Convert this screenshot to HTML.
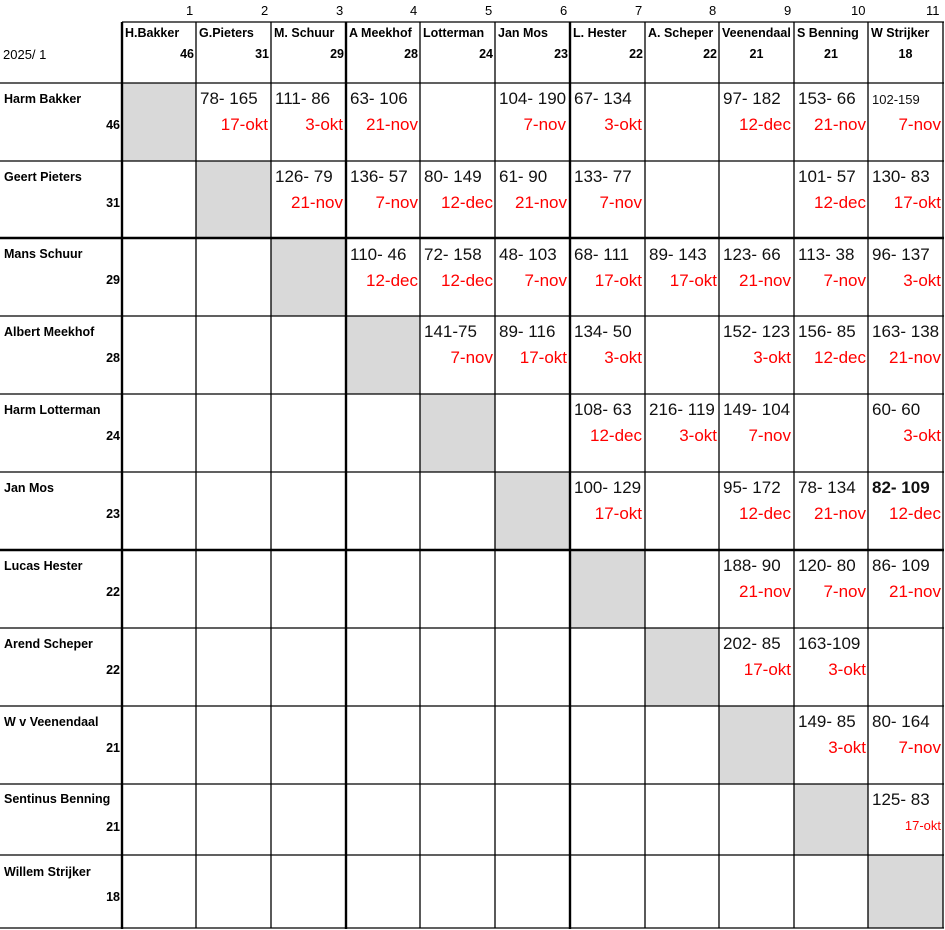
<!DOCTYPE html>
<html><head><meta charset="utf-8"><style>
body{margin:0;background:#fff;width:945px;height:930px;position:relative;overflow:hidden;font-family:"Liberation Sans",Arial,sans-serif}
svg{position:absolute;left:0;top:0}
.t{position:absolute;white-space:nowrap;line-height:1}
.n{font-size:17px;color:#111}
.d{font-size:17px;color:#f00;text-align:right}
.h{font-size:12.5px;font-weight:bold;color:#000}
.c{font-size:13px;color:#000}
</style></head><body>
<svg width="945" height="930">
<g fill="#d9d9d9">
<rect x="122" y="83" width="74" height="78"/><rect x="196" y="161" width="75" height="77"/><rect x="271" y="238" width="75" height="78"/><rect x="346" y="316" width="74" height="78"/><rect x="420" y="394" width="75" height="78"/><rect x="495" y="472" width="75" height="78"/><rect x="570" y="550" width="75" height="78"/><rect x="645" y="628" width="74" height="78"/><rect x="719" y="706" width="75" height="78"/><rect x="794" y="784" width="74" height="71"/><rect x="868" y="855" width="75" height="73"/>
</g>
<g stroke="#000" stroke-width="1.3">
<line x1="196" y1="22" x2="196" y2="928"/><line x1="271" y1="22" x2="271" y2="928"/><line x1="420" y1="22" x2="420" y2="928"/><line x1="495" y1="22" x2="495" y2="928"/><line x1="645" y1="22" x2="645" y2="928"/><line x1="719" y1="22" x2="719" y2="928"/><line x1="794" y1="22" x2="794" y2="928"/><line x1="868" y1="22" x2="868" y2="928"/><line x1="943" y1="22" x2="943" y2="928"/>
<line x1="122" y1="22" x2="944" y2="22"/><line x1="0" y1="83" x2="944" y2="83"/><line x1="0" y1="161" x2="944" y2="161"/><line x1="0" y1="316" x2="944" y2="316"/><line x1="0" y1="394" x2="944" y2="394"/><line x1="0" y1="472" x2="944" y2="472"/><line x1="0" y1="628" x2="944" y2="628"/><line x1="0" y1="706" x2="944" y2="706"/><line x1="0" y1="784" x2="944" y2="784"/><line x1="0" y1="855" x2="944" y2="855"/><line x1="0" y1="928" x2="944" y2="928"/>
</g>
<g stroke="#000" stroke-width="2.4">
<line x1="122" y1="22" x2="122" y2="929"/><line x1="346" y1="22" x2="346" y2="929"/><line x1="570" y1="22" x2="570" y2="929"/>
<line x1="0" y1="238" x2="944" y2="238"/><line x1="0" y1="550" x2="944" y2="550"/>
</g>
</svg>

<!-- column numbers -->
<div class="t c" style="top:4px;left:186px">1</div>
<div class="t c" style="top:4px;left:261px">2</div>
<div class="t c" style="top:4px;left:336px">3</div>
<div class="t c" style="top:4px;left:410px">4</div>
<div class="t c" style="top:4px;left:485px">5</div>
<div class="t c" style="top:4px;left:560px">6</div>
<div class="t c" style="top:4px;left:635px">7</div>
<div class="t c" style="top:4px;left:709px">8</div>
<div class="t c" style="top:4px;left:784px">9</div>
<div class="t c" style="top:4px;left:851px">10</div>
<div class="t c" style="top:4px;left:926px">11</div>
<div class="t c" style="top:48px;left:3px">2025/ 1</div>

<!-- header names -->
<div class="t h" style="top:27px;left:125px;width:69px;overflow:hidden">H.Bakker</div>
<div class="t h" style="top:27px;left:199px;width:70px;overflow:hidden">G.Pieters</div>
<div class="t h" style="top:27px;left:274px;width:70px;overflow:hidden">M. Schuur</div>
<div class="t h" style="top:27px;left:349px;width:70px;overflow:hidden">A Meekhof</div>
<div class="t h" style="top:27px;left:423px;width:70px;overflow:hidden">Lotterman</div>
<div class="t h" style="top:27px;left:498px;width:70px;overflow:hidden">Jan Mos</div>
<div class="t h" style="top:27px;left:573px;width:70px;overflow:hidden">L. Hester</div>
<div class="t h" style="top:27px;left:648px;width:70px;overflow:hidden">A. Scheper</div>
<div class="t h" style="top:27px;left:722px;width:71px;overflow:hidden">Veenendaal</div>
<div class="t h" style="top:27px;left:797px;width:70px;overflow:hidden">S Benning</div>
<div class="t h" style="top:27px;left:871px;width:70px;overflow:hidden">W Strijker</div>
<div class="t h" style="top:48px;left:122px;width:72px;text-align:right">46</div>
<div class="t h" style="top:48px;left:196px;width:73px;text-align:right">31</div>
<div class="t h" style="top:48px;left:271px;width:73px;text-align:right">29</div>
<div class="t h" style="top:48px;left:346px;width:72px;text-align:right">28</div>
<div class="t h" style="top:48px;left:420px;width:73px;text-align:right">24</div>
<div class="t h" style="top:48px;left:495px;width:73px;text-align:right">23</div>
<div class="t h" style="top:48px;left:570px;width:73px;text-align:right">22</div>
<div class="t h" style="top:48px;left:645px;width:72px;text-align:right">22</div>
<div class="t h" style="top:48px;left:719px;width:75px;text-align:center">21</div>
<div class="t h" style="top:48px;left:794px;width:74px;text-align:center">21</div>
<div class="t h" style="top:48px;left:868px;width:75px;text-align:center">18</div>

<!-- row names -->
<div class="t h" style="top:93px;left:4px">Harm Bakker</div><div class="t h" style="top:119px;left:0;width:120px;text-align:right">46</div>
<div class="t h" style="top:171px;left:4px">Geert Pieters</div><div class="t h" style="top:197px;left:0;width:120px;text-align:right">31</div>
<div class="t h" style="top:248px;left:4px">Mans Schuur</div><div class="t h" style="top:274px;left:0;width:120px;text-align:right">29</div>
<div class="t h" style="top:326px;left:4px">Albert Meekhof</div><div class="t h" style="top:352px;left:0;width:120px;text-align:right">28</div>
<div class="t h" style="top:404px;left:4px">Harm Lotterman</div><div class="t h" style="top:430px;left:0;width:120px;text-align:right">24</div>
<div class="t h" style="top:482px;left:4px">Jan Mos</div><div class="t h" style="top:508px;left:0;width:120px;text-align:right">23</div>
<div class="t h" style="top:560px;left:4px">Lucas Hester</div><div class="t h" style="top:586px;left:0;width:120px;text-align:right">22</div>
<div class="t h" style="top:638px;left:4px">Arend Scheper</div><div class="t h" style="top:664px;left:0;width:120px;text-align:right">22</div>
<div class="t h" style="top:716px;left:4px">W v Veenendaal</div><div class="t h" style="top:742px;left:0;width:120px;text-align:right">21</div>
<div class="t h" style="top:793px;left:4px">Sentinus Benning</div><div class="t h" style="top:821px;left:0;width:120px;text-align:right">21</div>
<div class="t h" style="top:866px;left:4px">Willem Strijker</div><div class="t h" style="top:891px;left:0;width:120px;text-align:right">18</div>

<!-- Row 1 T=83 -->
<div class="t n" style="top:90px;left:200px">78- 165</div><div class="t d" style="top:116px;left:196px;width:72px">17-okt</div>
<div class="t n" style="top:90px;left:275px">111- 86</div><div class="t d" style="top:116px;left:271px;width:72px">3-okt</div>
<div class="t n" style="top:90px;left:350px">63- 106</div><div class="t d" style="top:116px;left:346px;width:72px">21-nov</div>
<div class="t n" style="top:90px;left:499px;width:71px;overflow:hidden">104- 190</div><div class="t d" style="top:116px;left:495px;width:71px">7-nov</div>
<div class="t n" style="top:90px;left:574px">67- 134</div><div class="t d" style="top:116px;left:570px;width:72px">3-okt</div>
<div class="t n" style="top:90px;left:723px">97- 182</div><div class="t d" style="top:116px;left:719px;width:72px">12-dec</div>
<div class="t n" style="top:90px;left:798px">153- 66</div><div class="t d" style="top:116px;left:794px;width:72px">21-nov</div>
<div class="t n" style="top:93px;left:872px;font-size:13px">102-159</div><div class="t d" style="top:116px;left:868px;width:73px">7-nov</div>
<!-- Row 2 T=161 -->
<div class="t n" style="top:168px;left:275px">126- 79</div><div class="t d" style="top:194px;left:271px;width:72px">21-nov</div>
<div class="t n" style="top:168px;left:350px">136- 57</div><div class="t d" style="top:194px;left:346px;width:72px">7-nov</div>
<div class="t n" style="top:168px;left:424px">80- 149</div><div class="t d" style="top:194px;left:420px;width:73px">12-dec</div>
<div class="t n" style="top:168px;left:499px">61- 90</div><div class="t d" style="top:194px;left:495px;width:72px">21-nov</div>
<div class="t n" style="top:168px;left:574px">133- 77</div><div class="t d" style="top:194px;left:570px;width:72px">7-nov</div>
<div class="t n" style="top:168px;left:798px">101- 57</div><div class="t d" style="top:194px;left:794px;width:72px">12-dec</div>
<div class="t n" style="top:168px;left:872px">130- 83</div><div class="t d" style="top:194px;left:868px;width:73px">17-okt</div>
<!-- Row 3 T=238 -->
<div class="t n" style="top:246px;left:350px">110- 46</div><div class="t d" style="top:272px;left:346px;width:72px">12-dec</div>
<div class="t n" style="top:246px;left:424px">72- 158</div><div class="t d" style="top:272px;left:420px;width:73px">12-dec</div>
<div class="t n" style="top:246px;left:499px">48- 103</div><div class="t d" style="top:272px;left:495px;width:72px">7-nov</div>
<div class="t n" style="top:246px;left:574px">68- 111</div><div class="t d" style="top:272px;left:570px;width:72px">17-okt</div>
<div class="t n" style="top:246px;left:649px">89- 143</div><div class="t d" style="top:272px;left:645px;width:72px">17-okt</div>
<div class="t n" style="top:246px;left:723px">123- 66</div><div class="t d" style="top:272px;left:719px;width:72px">21-nov</div>
<div class="t n" style="top:246px;left:798px">113- 38</div><div class="t d" style="top:272px;left:794px;width:72px">7-nov</div>
<div class="t n" style="top:246px;left:872px">96- 137</div><div class="t d" style="top:272px;left:868px;width:73px">3-okt</div>
<!-- Row 4 T=316 -->
<div class="t n" style="top:323px;left:424px">141-75</div><div class="t d" style="top:349px;left:420px;width:73px">7-nov</div>
<div class="t n" style="top:323px;left:499px">89- 116</div><div class="t d" style="top:349px;left:495px;width:72px">17-okt</div>
<div class="t n" style="top:323px;left:574px">134- 50</div><div class="t d" style="top:349px;left:570px;width:72px">3-okt</div>
<div class="t n" style="top:323px;left:723px">152- 123</div><div class="t d" style="top:349px;left:719px;width:72px">3-okt</div>
<div class="t n" style="top:323px;left:798px">156- 85</div><div class="t d" style="top:349px;left:794px;width:72px">12-dec</div>
<div class="t n" style="top:323px;left:872px">163- 138</div><div class="t d" style="top:349px;left:868px;width:73px">21-nov</div>
<!-- Row 5 T=394 -->
<div class="t n" style="top:401px;left:574px">108- 63</div><div class="t d" style="top:427px;left:570px;width:72px">12-dec</div>
<div class="t n" style="top:401px;left:649px;width:70px;overflow:hidden">216- 119</div><div class="t d" style="top:427px;left:645px;width:72px">3-okt</div>
<div class="t n" style="top:401px;left:723px;background:#fff">149- 104</div><div class="t d" style="top:427px;left:719px;width:72px">7-nov</div>
<div class="t n" style="top:401px;left:872px">60- 60</div><div class="t d" style="top:427px;left:868px;width:73px">3-okt</div>
<!-- Row 6 T=472 -->
<div class="t n" style="top:479px;left:574px;background:#fff">100- 129</div><div class="t d" style="top:505px;left:570px;width:72px">17-okt</div>
<div class="t n" style="top:479px;left:723px">95- 172</div><div class="t d" style="top:505px;left:719px;width:72px">12-dec</div>
<div class="t n" style="top:479px;left:798px">78- 134</div><div class="t d" style="top:505px;left:794px;width:72px">21-nov</div>
<div class="t n" style="top:479px;left:872px;font-weight:bold">82- 109</div><div class="t d" style="top:505px;left:868px;width:73px">12-dec</div>
<!-- Row 7 T=550 -->
<div class="t n" style="top:557px;left:723px">188- 90</div><div class="t d" style="top:583px;left:719px;width:72px">21-nov</div>
<div class="t n" style="top:557px;left:798px">120- 80</div><div class="t d" style="top:583px;left:794px;width:72px">7-nov</div>
<div class="t n" style="top:557px;left:872px">86- 109</div><div class="t d" style="top:583px;left:868px;width:73px">21-nov</div>
<!-- Row 8 T=628 -->
<div class="t n" style="top:635px;left:723px">202- 85</div><div class="t d" style="top:661px;left:719px;width:72px">17-okt</div>
<div class="t n" style="top:635px;left:798px">163-109</div><div class="t d" style="top:661px;left:794px;width:72px">3-okt</div>
<!-- Row 9 T=706 -->
<div class="t n" style="top:713px;left:798px">149- 85</div><div class="t d" style="top:739px;left:794px;width:72px">3-okt</div>
<div class="t n" style="top:713px;left:872px">80- 164</div><div class="t d" style="top:739px;left:868px;width:73px">7-nov</div>
<!-- Row 10 T=784 -->
<div class="t n" style="top:791px;left:872px">125- 83</div><div class="t d" style="top:819px;left:868px;width:73px;font-size:13px">17-okt</div>
</body></html>
